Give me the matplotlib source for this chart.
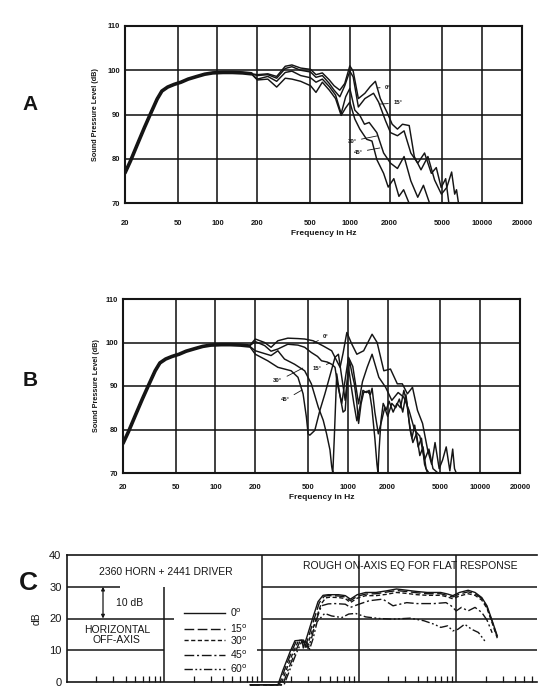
import numpy as np
import matplotlib
matplotlib.use('Agg')
import matplotlib.pyplot as plt
from matplotlib.ticker import FixedLocator, NullLocator, NullFormatter, LogLocator

plt.rcParams['font.family'] = ['Liberation Sans', 'DejaVu Sans']
INK = '#151515'

# ---------------- panels A and B (Hz, dB) ----------------
xt = [20, 50, 100, 200, 500, 1000, 2000, 5000, 10000, 20000]

# low end, common to all angles
low_f = [20, 22, 25, 28, 31, 35, 38, 42, 47, 53, 60, 70, 80, 92, 110, 130, 155, 180]
low_db = [76.8, 79.5, 83.5, 87.0, 90.0, 93.5, 95.3, 96.2, 96.8, 97.3, 98.0, 98.6,
          99.1, 99.4, 99.5, 99.5, 99.4, 99.2]

# panel A
a0_f = [200, 240, 280, 325, 365, 425, 505, 555, 620, 700, 760, 840, 915, 1000, 1060,
        1160, 1300, 1425, 1560, 1700, 1910, 2090, 2290, 2500, 2810, 3070, 3450, 3890,
        4370, 4920, 5400, 5880, 6200, 6400, 6620]
a0_db = [99.0, 99.2, 98.6, 100.9, 101.2, 100.5, 100.2, 99.0, 99.4, 97.8, 96.5, 95.5,
         97.0, 101.0, 99.8, 93.6, 94.8, 96.3, 97.5, 93.6, 90.5, 87.8, 86.7, 87.8, 87.5,
         80.5, 77.5, 80.5, 75.2, 72.0, 73.5, 77.0, 72.0, 73.0, 70.0]
a15_f = [200, 240, 280, 325, 365, 425, 505, 555, 620, 700, 760, 840, 915, 1000, 1060,
         1160, 1300, 1510, 1650, 1860, 2030, 2290, 2570, 2890, 3260, 3670, 4130, 4500,
         4900, 5300, 5600]
a15_db = [98.8, 99.0, 98.2, 100.4, 100.8, 100.0, 99.6, 98.4, 98.8, 97.0, 95.5, 94.0,
          96.5, 99.8, 98.5, 91.7, 93.6, 94.8, 92.8, 88.6, 85.9, 85.2, 86.3, 81.3, 79.0,
          81.3, 76.7, 78.0, 73.5, 75.5, 70.0]
a30_f = [200, 240, 280, 325, 365, 425, 505, 555, 620, 700, 780, 860, 930, 1000, 1090,
         1190, 1290, 1400, 1600, 1800, 2030, 2290, 2570, 2890, 3260, 3600, 4000]
a30_db = [98.0, 98.6, 97.5, 99.5, 99.8, 98.8, 98.3, 97.3, 98.0, 96.3, 94.4, 90.2, 94.0,
          95.9, 91.0, 89.8, 87.8, 88.2, 85.9, 81.3, 79.0, 77.8, 80.5, 75.0, 71.3, 74.0, 70.0]
a45_f = [200, 240, 280, 325, 365, 425, 505, 555, 620, 700, 780, 860, 930, 1000, 1090,
         1190, 1340, 1470, 1600, 1800, 1950, 2150, 2350, 2550, 2800]
a45_db = [97.8, 98.0, 96.2, 98.2, 98.0, 97.5, 96.5, 95.0, 97.3, 95.5, 93.6, 89.8, 91.5,
          92.8, 89.0, 86.7, 84.4, 84.0, 79.8, 76.7, 73.6, 75.5, 71.5, 73.0, 70.0]

# panel B
b0_f = [200, 235, 263, 296, 352, 420, 472, 547, 652, 755, 824, 874, 920, 983, 1073,
        1170, 1317, 1525, 1665, 1870, 2100, 2365, 2580, 2820, 3080, 3360, 3670, 4010,
        4300, 4560, 4900, 5200, 5540, 5900, 6200, 6400, 6600]
b0_db = [100.8, 100.0, 98.9, 100.4, 101.0, 100.9, 100.8, 100.4, 99.2, 98.1, 95.8, 94.3,
         97.5, 102.3, 99.6, 97.3, 98.1, 101.9, 100.0, 93.5, 93.9, 90.5, 90.5, 88.2, 89.7,
         84.4, 81.4, 75.3, 72.0, 77.0, 71.0, 73.0, 76.0, 70.5, 75.5, 71.0, 70.0]
b15_f = [200, 235, 263, 296, 352, 420, 472, 530, 590, 633, 700, 755, 800, 840, 900, 960,
         1012, 1090, 1206, 1290, 1400, 1525, 1715, 1930, 2150, 2400, 2650, 2900, 3200,
         3500, 3800, 4100, 4400, 4800]
b15_db = [100.2, 99.3, 98.0, 98.5, 99.6, 99.4, 98.9, 97.7, 96.8, 95.8, 95.5, 95.0, 94.3,
          90.0, 86.0, 92.0, 96.6, 94.5, 85.9, 91.0, 94.3, 97.3, 92.0, 89.7, 86.7, 88.5,
          87.4, 84.4, 79.8, 78.5, 73.0, 75.5, 71.0, 70.0]
b30_f = [200, 263, 296, 332, 396, 472, 530, 597, 652, 691, 733, 755, 770, 790, 824, 870,
         920, 955, 985, 1030, 1073, 1120, 1170, 1206, 1260, 1317, 1400, 1480, 1525, 1600,
         1700, 1800, 1900, 2000, 2150, 2300, 2450, 2600, 2750, 2900, 3050, 3200, 3400,
         3600, 3800, 4000]
b30_db = [98.1, 97.0, 98.1, 96.2, 95.0, 93.5, 90.5, 85.2, 82.1, 79.0, 75.3, 71.5, 70.0,
          78.0, 92.8, 88.0, 84.0, 84.4, 90.0, 95.8, 93.0, 90.5, 86.0, 81.4, 86.0, 88.5,
          88.8, 88.0, 89.5, 84.0, 79.0, 82.0, 85.0, 83.0, 86.0, 85.0, 87.0, 84.0, 88.0,
          82.0, 78.0, 81.0, 76.0, 78.0, 72.0, 70.0]
b45_f = [200, 248, 296, 373, 420, 459, 486, 501, 516, 563, 615, 671, 733, 800, 849, 900,
         955, 1012, 1060, 1110, 1170, 1230, 1300, 1380, 1450, 1520, 1600, 1660, 1690,
         1720, 1780, 1850, 1950, 2050, 2200, 2350, 2500, 2650, 2800, 2950, 3100, 3300,
         3500, 3700, 3900, 4100]
b45_db = [97.3, 95.8, 94.3, 93.5, 92.0, 88.2, 82.9, 79.0, 78.7, 79.8, 84.4, 88.2, 92.4,
          96.6, 97.3, 92.0, 86.7, 94.3, 90.0, 86.0, 82.0, 85.0, 89.0, 88.5, 89.0, 85.0,
          78.0, 72.0, 70.0, 75.0, 82.0, 86.0, 84.5, 86.5, 84.0, 86.0, 85.0, 89.0, 86.0,
          80.0, 77.0, 79.0, 74.0, 76.0, 71.0, 70.0]

angle_labels = ['0\u00b0', '15\u00b0', '30\u00b0', '45\u00b0']

# ---------------- panel C (Hz, dB) ----------------
c0_f = [76, 131, 147, 166, 196, 220, 260, 268, 292, 330, 380, 428, 483, 616, 724, 817,
        960, 1175, 1500, 1910, 2430, 3100, 3950, 5030, 6940, 8160, 9220, 10800, 13250,
        15600, 18300, 20700, 23400, 26400]
c0_db = [-0.9, -0.9, -0.9, 3.8, 9.5, 13.0, 13.2, 10.7, 14.2, 19.5, 25.3, 27.3, 27.5,
         27.5, 27.2, 26.1, 27.5, 28.2, 28.2, 28.7, 29.3, 28.9, 28.5, 28.2, 28.2, 27.7,
         27.2, 28.2, 28.9, 28.2, 26.6, 24.0, 19.3, 14.5]
c15_f = [76, 131, 152, 172, 203, 228, 270, 278, 303, 342, 392, 440, 483, 616, 724, 817,
         960, 1175, 1500, 1910, 2430, 3100, 3950, 5030, 6940, 8160, 9220, 10800, 13250,
         15600, 18300, 20700, 23400, 26400]
c15_db = [-0.9, -0.9, -0.9, 3.8, 9.5, 13.0, 13.2, 10.7, 14.2, 19.3, 25.0, 27.0, 27.2,
          27.1, 26.8, 25.6, 27.0, 27.7, 27.8, 28.3, 28.8, 28.5, 28.1, 27.8, 27.8, 27.2,
          26.8, 27.7, 28.4, 27.8, 26.3, 23.6, 19.0, 14.2]
c30_f = [76, 131, 158, 178, 210, 236, 280, 288, 314, 355, 408, 455, 500, 616, 724, 817,
         960, 1175, 1500, 1910, 2430, 3100, 3950, 5030, 6940, 8160, 9220, 10800, 13250,
         15600, 18300, 20700, 23400, 26400]
c30_db = [-0.9, -0.9, -0.9, 3.6, 9.2, 12.6, 12.8, 10.5, 14.0, 19.0, 24.5, 26.5, 26.7,
          26.6, 26.3, 25.0, 26.4, 27.2, 27.2, 27.6, 28.2, 27.9, 27.5, 27.3, 27.3, 26.8,
          26.2, 27.1, 27.8, 27.3, 25.8, 23.2, 18.6, 13.8]
c45_f = [76, 131, 165, 186, 220, 246, 291, 300, 327, 360, 411, 483, 568, 724, 817, 1000,
         1275, 1760, 2240, 3100, 3950, 5920, 7850, 8860, 10000, 11300, 13250, 15600,
         18300, 20700, 23400]
c45_db = [-0.9, -0.9, -0.9, 3.6, 9.2, 12.6, 12.8, 10.5, 14.0, 19.0, 24.0, 24.6, 24.7,
          24.5, 23.5, 24.5, 25.6, 26.1, 24.0, 25.0, 24.7, 24.7, 25.0, 24.0, 22.4, 23.5,
          22.4, 23.5, 21.9, 19.5, 15.5]
c60_f = [76, 131, 170, 193, 227, 255, 302, 311, 339, 372, 445, 524, 667, 785, 923, 1175,
         1620, 2240, 3360, 4640, 5920, 6940, 8160, 9220, 10400, 12200, 14400, 16900, 19800]
c60_db = [-0.9, -0.9, -0.9, 3.5, 9.0, 12.4, 12.6, 10.3, 13.8, 19.0, 21.6, 20.8, 20.3,
          21.4, 21.6, 20.5, 20.0, 19.8, 20.1, 19.3, 18.2, 17.2, 17.7, 16.1, 16.6, 18.2,
          16.6, 15.6, 12.8]

c_labels = ['0$^\\mathrm{o}$', '15$^\\mathrm{o}$', '30$^\\mathrm{o}$',
            '45$^\\mathrm{o}$', '60$^\\mathrm{o}$']
c_styles = ['-', (0, (7, 2.5)), (0, (3, 1.8)), (0, (7, 2, 1.5, 2)),
            (0, (6, 1.8, 1.3, 1.8, 1.3, 1.8))]

W, H = 554, 695
fig = plt.figure(figsize=(W / 100, H / 100), dpi=100)


def px_axes(l, t, r, b):
    return fig.add_axes([l / W, 1 - b / H, (r - l) / W, (b - t) / H])


def freq_panel(ax, curves, xpad, xlab_y, ylab_x, label_pos):
    ax.set_xscale('log')
    ax.set_xlim(20, 20000)
    ax.set_ylim(70, 110)
    ax.xaxis.set_major_locator(FixedLocator(xt))
    ax.xaxis.set_minor_locator(NullLocator())
    ax.set_xticklabels([str(v) for v in xt])
    ax.set_yticks([70, 80, 90, 100, 110])
    ax.set_axisbelow(True)
    ax.grid(True, color=INK, lw=1.15)
    ax.tick_params(length=0, labelsize=5.5, colors=INK)
    ax.tick_params(axis='x', pad=xpad)
    ax.tick_params(axis='y', pad=3.5)
    for t in ax.get_xticklabels() + ax.get_yticklabels():
        t.set_fontweight('bold')
    for s in ax.spines.values():
        s.set_linewidth(1.5)
        s.set_color(INK)
    ax.set_xlabel('Frequency in Hz', fontsize=6, fontweight='bold', color=INK)
    ax.xaxis.set_label_coords(0.5, xlab_y)
    ax.set_ylabel('Sound Pressure Level (dB)', fontsize=5.2, fontweight='bold', color=INK)
    ax.yaxis.set_label_coords(ylab_x, 0.5)

    # thick common low end (four traces on top of each other)
    ax.plot(low_f, low_db, color=INK, lw=2.6, solid_capstyle='round')
    for f, db in curves:
        ax.plot(low_f + f, low_db + db, color=INK, lw=1.05)
    for lab, (txt, end) in zip(angle_labels, label_pos):
        ax.annotate(lab, xy=end, xycoords='axes fraction', xytext=txt,
                    textcoords='axes fraction', fontsize=4.3, fontweight='bold',
                    ha='center', va='center', color=INK,
                    arrowprops=dict(arrowstyle='-', lw=0.6, color=INK,
                                    shrinkA=1.5, shrinkB=0))


axA = px_axes(125, 26, 522, 203)
freq_panel(axA, [(a0_f, a0_db), (a15_f, a15_db), (a30_f, a30_db), (a45_f, a45_db)],
           xpad=12, xlab_y=-0.155, ylab_x=-0.065,
           label_pos=[((0.662, 0.655), (0.635, 0.650)),
                      ((0.687, 0.565), (0.642, 0.559)),
                      ((0.572, 0.350), (0.635, 0.379)),
                      ((0.587, 0.288), (0.642, 0.311))])

axB = px_axes(123, 299, 520, 473)
freq_panel(axB, [(b0_f, b0_db), (b15_f, b15_db), (b30_f, b30_db), (b45_f, b45_db)],
           xpad=8, xlab_y=-0.118, ylab_x=-0.057,
           label_pos=[((0.511, 0.782), (0.479, 0.747)),
                      ((0.489, 0.603), (0.521, 0.632)),
                      ((0.390, 0.529), (0.453, 0.603)),
                      ((0.408, 0.420), (0.451, 0.477))])

fig.text(30 / W, 1 - 105 / H, 'A', fontsize=15, fontweight='bold', ha='center', va='center', color=INK)
fig.text(30 / W, 1 - 381 / H, 'B', fontsize=15, fontweight='bold', ha='center', va='center', color=INK)
fig.text(28 / W, 1 - 583 / H, 'C', fontsize=19, fontweight='bold', ha='center', va='center', color=INK)

# ---------------- panel C ----------------
axC = px_axes(67, 555, 537, 682)
axC.set_xscale('log')
axC.set_xlim(1, 67600)
axC.set_ylim(0, 40)
axC.set_yticks([0, 10, 20, 30, 40])
axC.xaxis.set_major_locator(NullLocator())
axC.xaxis.set_minor_locator(LogLocator(base=10, subs=np.arange(2, 10), numticks=60))
axC.xaxis.set_minor_formatter(NullFormatter())
axC.tick_params(axis='x', which='minor', direction='in', length=4, width=0.9, color=INK)
axC.tick_params(axis='y', length=0, labelsize=8, pad=4, colors=INK)
axC.spines['right'].set_visible(False)
for s in ['left', 'top', 'bottom']:
    axC.spines[s].set_linewidth(1.2)
    axC.spines[s].set_color(INK)
axC.set_ylabel('dB', fontsize=7.5, color=INK)
axC.yaxis.set_label_coords(-0.055, 0.5)

gl = dict(color=INK, lw=1.1)
for v in [100, 1000, 10000]:
    axC.axvline(v, **gl)
axC.vlines(10, 0, 30, **gl)
axC.hlines(30, 1, 3.5, **gl)
axC.hlines(30, 100, 67600, **gl)
axC.hlines(20, 1, 12.6, **gl)
axC.hlines(20, 100, 67600, **gl)
axC.hlines(10, 1, 10, **gl)
axC.hlines(10, 89, 67600, **gl)

c_curves = [(c0_f, c0_db), (c15_f, c15_db), (c30_f, c30_db), (c45_f, c45_db), (c60_f, c60_db)]
for (f, db), ls in zip(c_curves, c_styles):
    axC.plot(f, db, color=INK, lw=1.0, ls=ls, clip_on=False)

# hand drawn legend
leg_y = [0.543, 0.417, 0.327, 0.213, 0.102]
for lab, ls, y in zip(c_labels, c_styles, leg_y):
    axC.plot([0.249, 0.336], [y, y], transform=axC.transAxes, color=INK, lw=1.0, ls=ls)
    axC.text(0.347, y, lab, transform=axC.transAxes, fontsize=7.5, va='center', color=INK)

axC.text(0.210, 0.870, '2360 HORN + 2441 DRIVER', transform=axC.transAxes,
         fontsize=7.5, ha='center', va='center', color=INK)
axC.text(0.731, 0.913, 'ROUGH ON-AXIS EQ FOR FLAT RESPONSE', transform=axC.transAxes,
         fontsize=7.5, ha='center', va='center', color=INK)
axC.text(0.133, 0.622, '10 dB', transform=axC.transAxes, fontsize=7.5,
         ha='center', va='center', color=INK)
axC.text(0.106, 0.372, 'HORIZONTAL\nOFF-AXIS', transform=axC.transAxes, fontsize=7.5,
         ha='center', va='center', linespacing=1.0, color=INK)
axC.annotate('', xy=(0.0766, 20), xycoords=axC.get_yaxis_transform(),
             xytext=(0.0766, 30), textcoords=axC.get_yaxis_transform(),
             arrowprops=dict(arrowstyle='<|-|>', lw=0.9, color=INK,
                             mutation_scale=5, shrinkA=0, shrinkB=0))

fig.savefig('out.png', dpi=100)
